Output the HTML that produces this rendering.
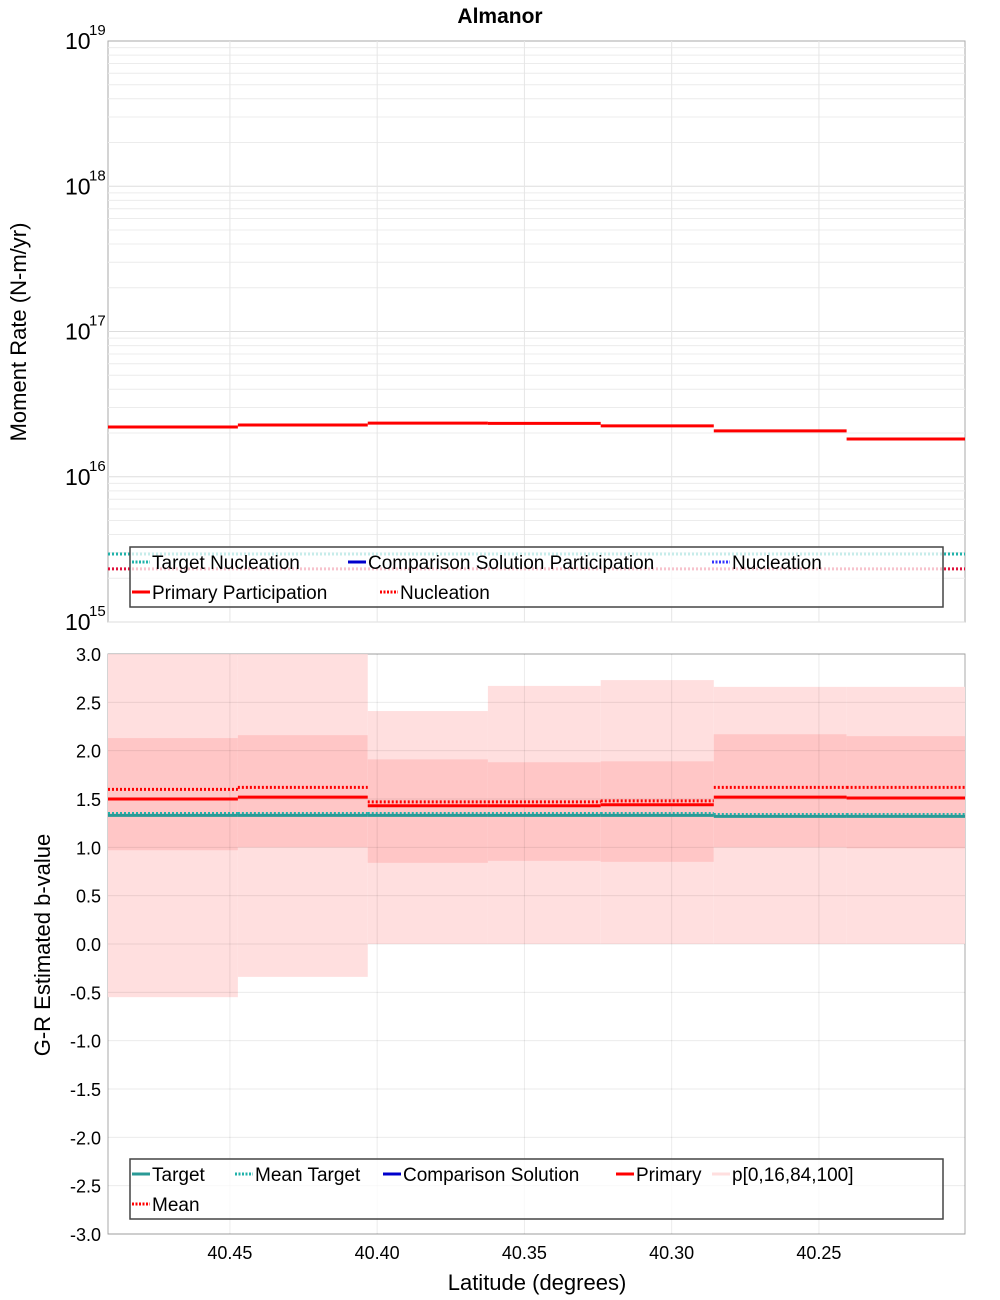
<!DOCTYPE html>
<html><head><meta charset="utf-8"><style>
body{margin:0;background:#fff;}
svg{display:block;font-family:"Liberation Sans","DejaVu Sans",sans-serif;}
</style></head><body>
<svg id="chart" width="1000" height="1300" viewBox="0 0 1000 1300" xmlns="http://www.w3.org/2000/svg">
<text x="500" y="23" text-anchor="middle" font-size="21" font-weight="bold">Almanor</text>
<g id="topPanel"></g>
<g id="botPanel"></g>
</svg>
<script>
const binEdges=[40.4914,40.4473,40.4032,40.3624,40.3241,40.2857,40.2406,40.2004];
const primaryPart=[2.2e16,2.27e16,2.34e16,2.33e16,2.24e16,2.07e16,1.82e16];
const targetNucl=2.94e15;
const primaryNucl=2.32e15;
const xTicks=[40.45,40.40,40.35,40.30,40.25];
const bTicks=[3.0,2.5,2.0,1.5,1.0,0.5,0.0,-0.5,-1.0,-1.5,-2.0,-2.5,-3.0];
const targetB=[1.33,1.33,1.33,1.33,1.33,1.32,1.32];
const meanTargetB=[1.35,1.35,1.35,1.35,1.35,1.34,1.34];
const primaryB=[1.50,1.52,1.43,1.43,1.44,1.52,1.51];
const meanB=[1.60,1.62,1.47,1.47,1.48,1.62,1.62];
const p0=[-0.55,-0.34,0.0,0.0,0.0,0.0,0.0];
const p16=[0.97,1.00,0.84,0.86,0.85,1.00,0.99];
const p84=[2.13,2.16,1.91,1.88,1.89,2.17,2.15];
const p100=[3.0,3.0,2.41,2.67,2.73,2.66,2.66];

const NS="http://www.w3.org/2000/svg";
const L=108,R=965;
const xs=v=>L+(binEdges[0]-v)/(binEdges[0]-binEdges[7])*(R-L);
const T1=41,B1=622;const ys1=v=>T1+(19-Math.log10(v))/4*(B1-T1);
const T2=654,B2=1234;const ys2=v=>T2+(3-v)/6*(B2-T2);
function mk(p,tag,at){const e=document.createElementNS(NS,tag);for(const k in at)e.setAttribute(k,at[k]);p.appendChild(e);return e;}
const topG=document.getElementById('topPanel'),botG=document.getElementById('botPanel');

let r=mk(topG,'rect',{x:L,y:T1,width:R-L,height:B1-T1,fill:'#fff',stroke:'#aaa'});


for(let d=15;d<19;d++){for(let m=1;m<10;m++){const y=ys1(m*Math.pow(10,d));
 const g=mk(topG,'line',{x1:L,x2:R,y1:y,y2:y,stroke:m==1?'#ddd':'#ececec','stroke-width':1});
 
 }}
xTicks.forEach(t=>{const g=mk(topG,'line',{x1:xs(t),x2:xs(t),y1:T1,y2:B1,stroke:'#e6e6e6'});
 
 });
for(let d=15;d<=19;d++){const y=ys1(Math.pow(10,d));
 const t=mk(topG,'text',{x:65,y:y+8,'font-size':23});t.textContent='10';
 
 
 const s=mk(topG,'text',{x:89,y:y-6,'font-size':15});s.textContent=String(d);
 
 }
let yt=mk(topG,'text',{x:26,y:332,'font-size':22,'text-anchor':'middle',transform:'rotate(-90 26 332)'});yt.textContent='Moment Rate (N-m/yr)';


let tn=mk(topG,'line',{x1:L,x2:R,y1:ys1(targetNucl),y2:ys1(targetNucl),stroke:'#20b2aa','stroke-width':3,'stroke-dasharray':'2,2'});


let pn=mk(topG,'line',{x1:L,x2:R,y1:ys1(primaryNucl),y2:ys1(primaryNucl),stroke:'#e0103a','stroke-width':3,'stroke-dasharray':'2,2'});


primaryPart.forEach((v,i)=>{const l=mk(topG,'line',{x1:xs(binEdges[i]),x2:xs(binEdges[i+1]),y1:ys1(v),y2:ys1(v),stroke:'#f00','stroke-width':3});
 
 });

function legend(p,y0,items,name){
 const g=mk(p,'g',{});
 
 
 mk(g,'rect',{x:130,y:y0,width:813,height:60,fill:'rgba(255,255,255,0.75)',stroke:'#444','stroke-width':1.5});
 items.forEach(it=>{const ln=mk(g,'line',{x1:it[0],x2:it[0]+18,y1:it[1],y2:it[1],stroke:it[2],'stroke-width':3,'stroke-dasharray':it[3]?'2,1.5':'none'});
  
  
  const t=mk(g,'text',{x:it[0]+20,y:it[1]+7,'font-size':19});t.textContent=it[4];
  
  });
}
legend(topG,547,[[132,562,'#20b2aa',1,'Target Nucleation'],[348,562,'#00c',0,'Comparison Solution Participation'],[712,562,'#33f',1,'Nucleation'],[132,592,'#f00',0,'Primary Participation'],[380,592,'#f00',1,'Nucleation']],'top-legend');

r=mk(botG,'rect',{x:L,y:T2,width:R-L,height:B2-T2,fill:'#fff',stroke:'#aaa'});


p0.forEach((v,i)=>{const x1=xs(binEdges[i]),x2=xs(binEdges[i+1]);
 const a=mk(botG,'rect',{x:x1,y:ys2(p100[i]),width:x2-x1,height:ys2(v)-ys2(p100[i]),fill:'#ffdfdf'});
 
 
 const b=mk(botG,'rect',{x:x1,y:ys2(p84[i]),width:x2-x1,height:ys2(p16[i])-ys2(p84[i]),fill:'#ffc6c6'});
 
 });
bTicks.forEach(t=>{const y=ys2(t);
 const g=mk(botG,'line',{x1:L,x2:R,y1:y,y2:y,stroke:'rgba(0,0,0,0.08)'});
 
 
 const tx=mk(botG,'text',{x:101,y:y+7,'font-size':18,'text-anchor':'end'});tx.textContent=t.toFixed(1);
 
 });
xTicks.forEach(t=>{const x=xs(t);
 const g=mk(botG,'line',{x1:x,x2:x,y1:T2,y2:B2,stroke:'rgba(0,0,0,0.08)'});
 
 
 const tx=mk(botG,'text',{x:x,y:1259,'font-size':18,'text-anchor':'middle'});tx.textContent=t.toFixed(2);
 
 });
function steps(arr,col,dash,name){arr.forEach((v,i)=>{const l=mk(botG,'line',{x1:xs(binEdges[i]),x2:xs(binEdges[i+1]),y1:ys2(v),y2:ys2(v),stroke:col,'stroke-width':3,'stroke-dasharray':dash?'2,2':'none'});
 
 });}
steps(meanTargetB,'#20b2aa',1,'mean-target-segment');
steps(targetB,'#2a9a96',0,'target-segment');
steps(meanB,'#f00',1,'mean-segment');
steps(primaryB,'#f00',0,'primary-segment');
yt=mk(botG,'text',{x:50,y:945,'font-size':22,'text-anchor':'middle',transform:'rotate(-90 50 945)'});yt.textContent='G-R Estimated b-value';


let xt=mk(botG,'text',{x:537,y:1290,'font-size':22,'text-anchor':'middle'});xt.textContent='Latitude (degrees)';


legend(botG,1159,[[132,1174,'#2a9a96',0,'Target'],[235,1174,'#20b2aa',1,'Mean Target'],[383,1174,'#00c',0,'Comparison Solution'],[616,1174,'#f00',0,'Primary'],[712,1174,'#ffdfdf',0,'p[0,16,84,100]'],[132,1204,'#f00',1,'Mean']],'bottom-legend');
</script>
</body></html>
